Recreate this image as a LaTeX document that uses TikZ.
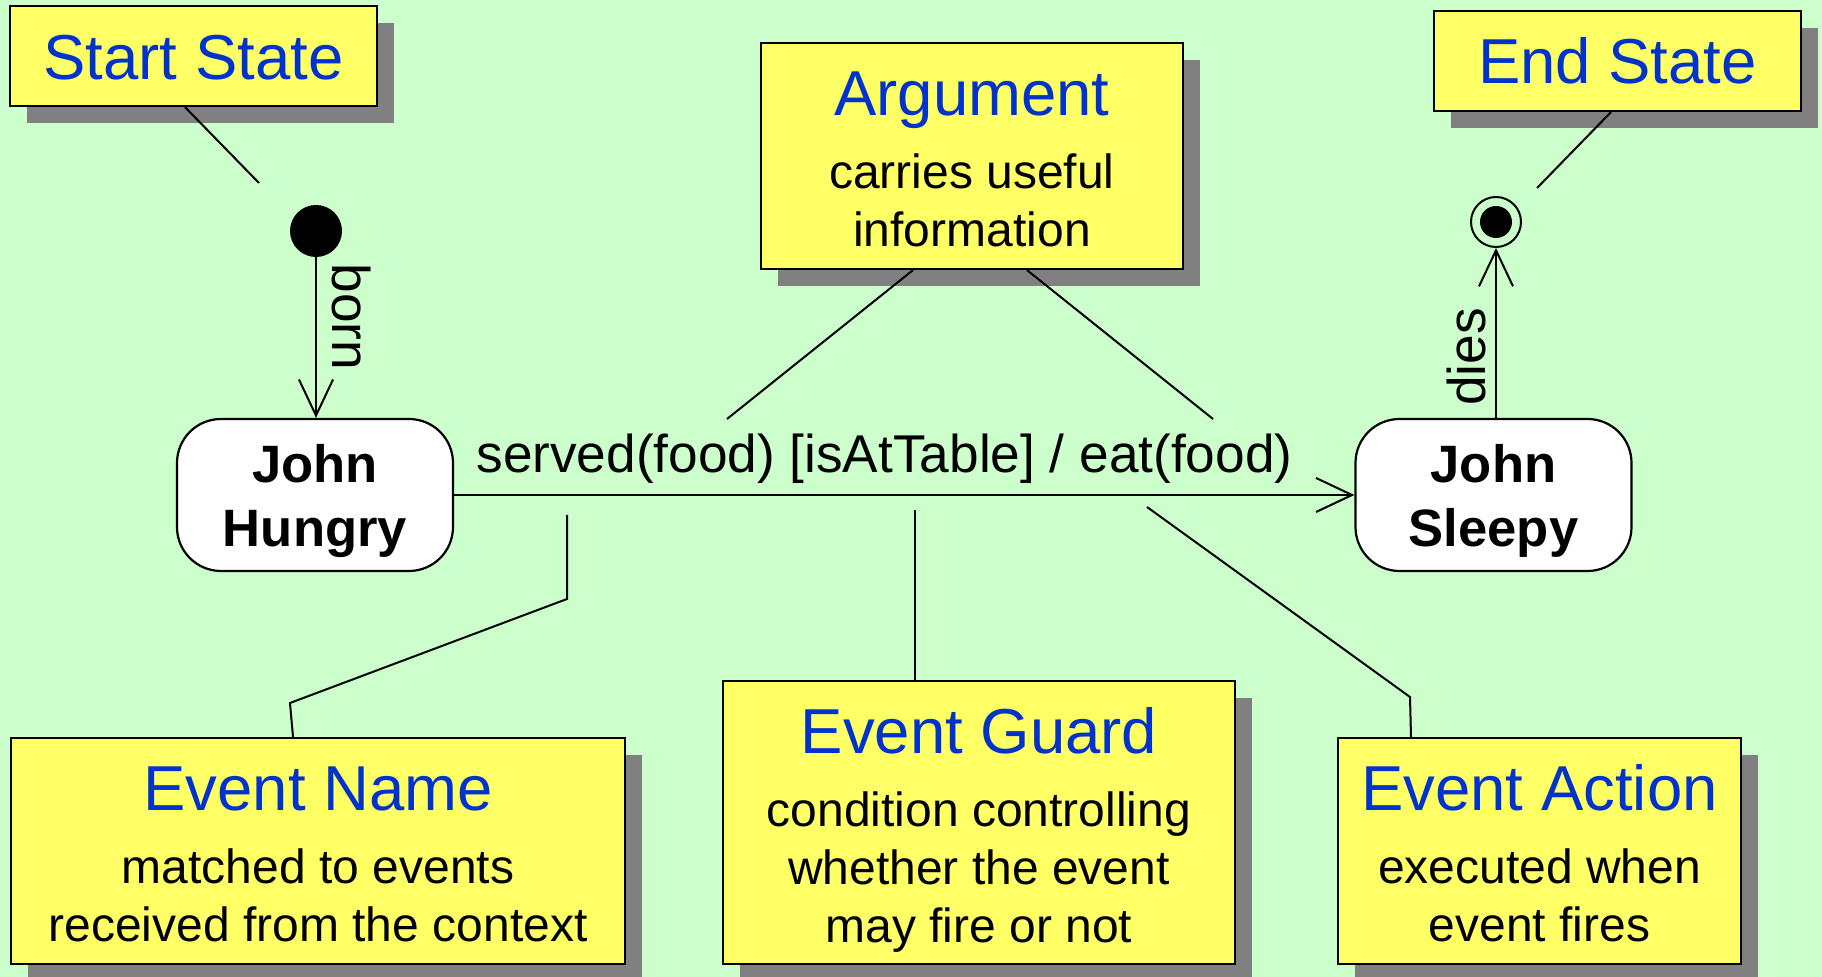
\documentclass[tikz,border=0pt]{standalone}
\usepackage{fontspec}
\setmainfont{Liberation Sans}
\usetikzlibrary{arrows.meta,calc,shadows}
\definecolor{bggreen}{HTML}{CCFFCC}
\definecolor{noteyellow}{HTML}{FFFF66}
\definecolor{noteblue}{HTML}{0033CC}
\definecolor{shadowgray}{HTML}{808080}
\tikzset{
  note/.style={draw=black, line width=1.1pt, fill=noteyellow, rectangle, inner sep=0pt,
    drop shadow={shadow xshift=8.5pt, shadow yshift=-8.5pt, fill=shadowgray, opacity=1}},
  notetitle/.style={text=noteblue, font=\fontsize{31.75}{38}\selectfont, inner sep=0pt, anchor=base},
  notebody/.style={font=\fontsize{24}{29}\selectfont, align=center, inner sep=0pt, anchor=north},
  state/.style={draw=black, line width=1.1pt, fill=white, rounded corners=22pt,
    minimum width=138pt, minimum height=76pt, inner sep=0pt},
  statename/.style={align=center, inner sep=0pt, font=\fontsize{26.3}{32}\selectfont\bfseries},
  link/.style={draw=black, line width=1pt},
  trans/.style={link, -{Straight Barb[length=18pt, width=17pt]}},
  translabel/.style={font=\fontsize{26.6}{31}\selectfont, inner sep=0pt},
}
\begin{document}
\begin{tikzpicture}[x=0.5pt, y=-0.5pt]
  % canvas
  \fill[bggreen] (0,0) rectangle (1822,977);
  \useasboundingbox (0,0) rectangle (1822,977);

  % pseudo states
  \node[circle, fill=black, minimum size=26pt, inner sep=0pt] (init) at (316,231) {};
  \node[circle, draw=black, line width=1pt, minimum size=25pt, inner sep=0pt] (final) at (1496,222) {};
  \node[circle, fill=black, minimum size=16pt, inner sep=0pt] (finaldot) at (final.center) {};

  % states
  \node[state] (hungry) at (315,495) {};
  \node[statename] (hungryT) at ($(hungry.center)+(0,6.3)$) {John\\Hungry};
  \node[state] (sleepy) at (1493.5,495) {};
  \node[statename] (sleepyT) at ($(sleepy.center)+(0,6.3)$) {John\\Sleepy};

  % transitions
  \draw[trans] (init.south) -- (init.south |- hungry.north);
  \node[translabel, rotate=-90] (bornlbl) at (352,317) {born};
  \draw[trans] (sleepy.north -| final.south) -- (final.south);
  \node[translabel, rotate=90] (dieslbl) at (1466,357) {dies};
  \draw[trans] (hungry.east) -- (sleepy.west);
  \node[translabel, anchor=base west] (eventlbl) at (476,473) {served(food) [isAtTable] / eat(food)};

  % annotation notes
  \node[note, minimum width=183.5pt, minimum height=50pt] (startnote) at (193.5,56) {};
  \node[notetitle] (startT) at ($(startnote.north)+(0,74.5)$) {Start State};

  \node[note, minimum width=183.5pt, minimum height=50pt] (endnote) at (1617.5,61) {};
  \node[notetitle] (endT) at ($(endnote.north)+(0,74)$) {End State};

  \node[note, minimum width=211pt, minimum height=113pt] (argnote) at (972,156) {};
  \node[notetitle] (argT) at ($(argnote.north)+(0,74)$) {Argument};
  \node[notebody] (argB) at ($(argnote.north)+(0,111.5)$) {carries useful\\information};

  \node[note, minimum width=307pt, minimum height=113pt] (namenote) at (318,851) {};
  \node[notetitle] (nameT) at ($(namenote.north)+(0,74)$) {Event Name};
  \node[notebody] (nameB) at ($(namenote.north)+(0,111.5)$) {matched to events\\received from the context};

  \node[note, minimum width=256pt, minimum height=141.5pt] (guardnote) at (979,822.5) {};
  \node[notetitle] (guardT) at ($(guardnote.north)+(0,74)$) {Event Guard};
  \node[notebody] (guardB) at ($(guardnote.north)+(0,111.5)$) {condition controlling\\whether the event\\may fire or not};

  \node[note, minimum width=201.5pt, minimum height=113pt] (actionnote) at (1539.5,851) {};
  \node[notetitle] (actionT) at ($(actionnote.north)+(0,74)$) {Event Action};
  \node[notebody] (actionB) at ($(actionnote.north)+(0,111.5)$) {executed when\\event fires};

  % free ends of the note connectors
  \coordinate (startP) at (259,183);
  \coordinate (endP) at (1537,188);
  \coordinate (argL) at (727,419);
  \coordinate (argR) at (1213,419);
  \coordinate (nameA) at (290,703);
  \coordinate (nameB2) at (567,599);
  \coordinate (nameP) at (567,515);
  \coordinate (guardP) at (915,510);
  \coordinate (actionA) at (1410,697);
  \coordinate (actionP) at (1147,507);

  % note connectors
  \draw[link] ([xshift=-4.25pt]startnote.south) -- (startP);
  \draw[link] ([xshift=-3.25pt]endnote.south) -- (endP);
  \draw[link] ([xshift=-29.5pt]argnote.south) -- (argL);
  \draw[link] ([xshift=27.5pt]argnote.south) -- (argR);
  \draw[link] ([xshift=-12.5pt]namenote.north) -- (nameA) -- (nameB2) -- (nameP);
  \draw[link] ([xshift=-32pt]guardnote.north) -- (guardP);
  \draw[link] ([xshift=-64.25pt]actionnote.north) -- (actionA) -- (actionP);
\end{tikzpicture}
\end{document}
